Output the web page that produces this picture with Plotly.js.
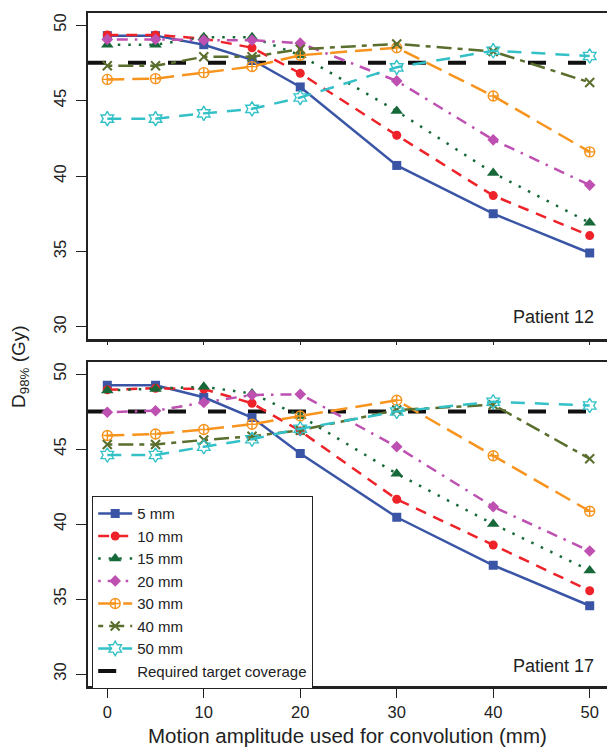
<!DOCTYPE html>
<html>
<head>
<meta charset="utf-8">
<script src="https://cdn.plot.ly/plotly-3.0.1.min.js"></script>
<style>
html, body { margin:0; padding:0; overflow:hidden; background:#fff; }
#chart { width:612px; height:748px; }
</style>
</head>
<body>
<div id="chart"></div>
<script>
// ---- data ----
const motionAmplitude = [0, 5, 10, 15, 20, 30, 40, 50];
const seriesNames = ['5 mm', '10 mm', '15 mm', '20 mm', '30 mm', '40 mm', '50 mm'];

// Patient 12
const p12_5mm  = [49.3, 49.3, 48.7, 47.7, 45.9, 40.7, 37.5, 34.9];
const p12_10mm = [49.35, 49.35, 49.1, 48.5, 46.8, 42.7, 38.7, 36.05];
const p12_15mm = [48.7, 48.7, 49.2, 49.2, 48.0, 44.3, 40.2, 36.9];
const p12_20mm = [49.05, 49.05, 49.0, 49.0, 48.8, 46.3, 42.4, 39.4];
const p12_30mm = [46.4, 46.45, 46.85, 47.25, 48.0, 48.5, 45.3, 41.6];
const p12_40mm = [47.3, 47.3, 47.9, 47.9, 48.4, 48.75, 48.25, 46.2];
const p12_50mm = [43.8, 43.8, 44.15, 44.45, 45.2, 47.2, 48.3, 47.95];

// Patient 17
const p17_5mm  = [49.25, 49.25, 48.45, 47.1, 44.7, 40.45, 37.25, 34.55];
const p17_10mm = [48.95, 49.05, 49.0, 48.05, 46.2, 41.65, 38.6, 35.55];
const p17_15mm = [48.9, 49.0, 49.15, 48.7, 47.2, 43.35, 40.0, 36.9];
const p17_20mm = [47.45, 47.55, 48.1, 48.6, 48.65, 45.15, 41.15, 38.2];
const p17_30mm = [45.9, 46.0, 46.3, 46.65, 47.2, 48.25, 44.55, 40.85];
const p17_40mm = [45.3, 45.3, 45.6, 45.85, 46.25, 47.6, 47.95, 44.35];
const p17_50mm = [44.6, 44.6, 45.15, 45.65, 46.35, 47.5, 48.15, 47.9];

const patient12 = [p12_5mm, p12_10mm, p12_15mm, p12_20mm, p12_30mm, p12_40mm, p12_50mm];
const patient17 = [p17_5mm, p17_10mm, p17_15mm, p17_20mm, p17_30mm, p17_40mm, p17_50mm];

const requiredCoverage = 47.5;
const requiredName = 'Required target coverage';
const xTickVals = [0, 10, 20, 30, 40, 50];
const yTickVals = [30, 35, 40, 45, 50];
const xAxisRange = [-2, 52];
const yAxisRange = [29.2, 50.8];

// ---- styles ----
const styles = [
  {color:'#3a55a6', dash:'solid',              symbol:'square',            size:9,  lw:0},
  {color:'#ee2229', dash:'11px,8px',           symbol:'circle',            size:9,  lw:0},
  {color:'#17693a', dash:'2.5px,8px',          symbol:'triangle-up',       size:11, lw:0},
  {color:'#bd50b1', dash:'2.5px,7px,11px,7px', symbol:'diamond',           size:9,  lw:0},
  {color:'#f7941e', dash:'17px,8px',           symbol:'circle-cross-open', size:10, lw:1.4},
  {color:'#5a6e2d', dash:'5px,6px,15px,6px',   symbol:'x-thin-open',       size:9,  lw:2},
  {color:'#33c1c7', dash:'14px,10px',          symbol:'hexagram-open',     size:11, lw:1.4}
];

const traces = [];
function addRef(xa, ya, show) {
  traces.push({
    x: xAxisRange, y: [requiredCoverage, requiredCoverage],
    xaxis: xa, yaxis: ya, type:'scatter', mode:'lines',
    name: requiredName, showlegend: show, legendrank: 2000,
    line: {color:'#111', width:4, dash:'18px,22px'}, hoverinfo:'skip'
  });
}
addRef('x', 'y', false);
addRef('x2', 'y2', true);

seriesNames.forEach((nm, i) => {
  const s = styles[i];
  [[patient12[i], 'x', 'y', false], [patient17[i], 'x2', 'y2', true]].forEach(([vals, xa, ya, show]) => {
    traces.push({
      x: motionAmplitude, y: vals, xaxis: xa, yaxis: ya,
      type:'scatter', mode:'lines+markers', name: nm, showlegend: show, legendrank: 100 + i,
      line: {color: s.color, width: 2.5, dash: s.dash},
      marker: {color: s.color, symbol: s.symbol, size: s.size,
               line: {color: s.color, width: s.lw}}
    });
  });
});

const baseFont = {family:'"Liberation Sans", Arial, Helvetica, sans-serif', color:'#222'};
function fnt(sz) { return Object.assign({size: sz}, baseFont); }
const axisCommon = {
  showline:true, mirror:true, linecolor:'#222', linewidth:2.5,
  showgrid:false, zeroline:false, ticks:'outside', tickcolor:'#222', tickwidth:1
};

const figH = 748, marginTop = 13, marginBottom = 62;
const plotH = figH - marginTop - marginBottom; // 673
const topDomain = [(686 - 339) / plotH, 1];
const botDomain = [0, (686 - 362) / plotH];

const layout = {
  width: 612, height: figH,
  margin: {l: 88, r: 3, t: marginTop, b: marginBottom},
  paper_bgcolor:'#fff', plot_bgcolor:'#fff',
  font: fnt(16.5),
  showlegend: true,
  xaxis: Object.assign({}, axisCommon, {range: xAxisRange, anchor:'y', tickvals: xTickVals, showticklabels:false, ticklen:3}),
  yaxis: Object.assign({}, axisCommon, {range: yAxisRange, domain: topDomain, anchor:'x', tickvals: yTickVals,
          ticklen:10, tickangle:-90, ticklabelstandoff:3, tickfont: fnt(16.5)}),
  xaxis2: Object.assign({}, axisCommon, {range: xAxisRange, anchor:'y2', tickvals: xTickVals, ticklen:9,
          ticklabelstandoff:1, tickfont: fnt(16.5)}),
  yaxis2: Object.assign({}, axisCommon, {range: yAxisRange, domain: botDomain, anchor:'x2', tickvals: yTickVals,
          ticklen:10, tickangle:-90, ticklabelstandoff:3, tickfont: fnt(16.5)}),
  legend: {
    x: (92 - 88) / 521, y: (686 - 496) / plotH, xanchor:'left', yanchor:'top',
    bgcolor:'#fff', bordercolor:'#222', borderwidth:1.2,
    font: fnt(15), traceorder:'normal', tracegroupgap:0, itemwidth:34
  },
  annotations: [
    {text:'Patient 12', xref:'paper', yref:'paper', x:(596 - 88) / 521, y:(686 - 317) / plotH,
     xanchor:'right', yanchor:'middle', showarrow:false, font: fnt(18)},
    {text:'Patient 17', xref:'paper', yref:'paper', x:(596 - 88) / 521, y:(686 - 665.5) / plotH,
     xanchor:'right', yanchor:'middle', showarrow:false, font: fnt(18)},
    {text:'Motion amplitude used for convolution (mm)', xref:'paper', yref:'paper',
     x:(347 - 88) / 521, y:(686 - 735) / plotH, xanchor:'center', yanchor:'middle',
     showarrow:false, font: fnt(20.5)},
    {text:'D<sub>98%</sub> (Gy)', xref:'paper', yref:'paper', textangle:-90,
     x:(20 - 88) / 521, y:(686 - 367) / plotH, xanchor:'center', yanchor:'middle',
     showarrow:false, font: fnt(19)}
  ]
};

Plotly.newPlot('chart', traces, layout, {displayModeBar:false, staticPlot:true});
</script>
</body>
</html>
